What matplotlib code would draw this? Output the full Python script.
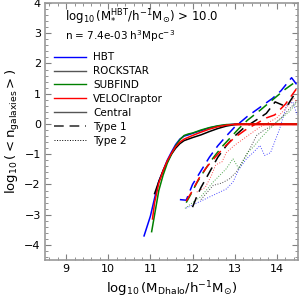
import numpy as np
import matplotlib.pyplot as plt
from matplotlib.lines import Line2D
from matplotlib.ticker import MultipleLocator

plt.rcParams['mathtext.default'] = 'regular'

# halo finders and their colours
finders = ['HBT', 'ROCKSTAR', 'SUBFIND', 'VELOCIraptor']
colors = ['blue', 'black', 'green', 'red']

# central galaxies (solid)
cen_x = {
    'HBT': [10.85, 11.0, 11.1, 11.2, 11.3, 11.4, 11.5, 11.6, 11.7, 11.8, 11.9, 12.0, 12.2, 12.4, 12.6, 12.8, 13.0, 13.3, 14.5],
    'ROCKSTAR': [11.1, 11.2, 11.3, 11.4, 11.5, 11.6, 11.7, 11.8, 11.9, 12.0, 12.2, 12.4, 12.6, 12.8, 13.0, 13.3, 14.5],
    'SUBFIND': [11.03, 11.1, 11.2, 11.3, 11.4, 11.5, 11.6, 11.7, 11.8, 11.9, 12.0, 12.2, 12.4, 12.6, 12.8, 13.0, 13.3, 14.5],
    'VELOCIraptor': [11.05, 11.1, 11.2, 11.3, 11.4, 11.5, 11.6, 11.7, 11.8, 11.9, 12.0, 12.2, 12.4, 12.6, 12.8, 13.0, 13.3, 14.5],
}
cen_y = {
    'HBT': [-3.7, -3.05, -2.45, -1.9, -1.55, -1.2, -0.93, -0.68, -0.5, -0.4, -0.36, -0.31, -0.22, -0.13, -0.07, -0.03, -0.01, 0.0, 0.0],
    'ROCKSTAR': [-2.3, -1.9, -1.55, -1.25, -1.0, -0.8, -0.65, -0.55, -0.5, -0.45, -0.36, -0.25, -0.15, -0.07, -0.02, 0.0, 0.0],
    'SUBFIND': [-3.56, -3.0, -2.2, -1.7, -1.3, -1.0, -0.72, -0.52, -0.38, -0.33, -0.3, -0.2, -0.12, -0.06, -0.02, -0.01, 0.0, 0.0],
    'VELOCIraptor': [-3.14, -2.6, -1.95, -1.55, -1.22, -0.97, -0.75, -0.6, -0.5, -0.44, -0.38, -0.27, -0.17, -0.09, -0.04, -0.01, 0.0, 0.0],
}

# type 1 satellites (dashed)
t1_x = {
    'HBT': [11.7, 11.85, 12.0, 12.2, 12.4, 12.6, 12.8, 13.0, 13.3, 13.6, 13.9, 14.1, 14.35, 14.5],
    'ROCKSTAR': [12.0, 12.1, 12.2, 12.4, 12.6, 12.8, 13.0, 13.2, 13.5, 13.75, 13.96, 14.23, 14.46],
    'SUBFIND': [11.85, 11.95, 12.1, 12.3, 12.5, 12.7, 12.9, 13.1, 13.3, 13.6, 13.9, 14.2, 14.5],
    'VELOCIraptor': [11.85, 12.0, 12.15, 12.35, 12.6, 12.8, 13.0, 13.25, 13.5, 13.75, 13.95, 14.2, 14.46],
}
t1_y = {
    'HBT': [-2.5, -2.52, -2.0, -1.55, -1.1, -0.72, -0.4, -0.1, 0.25, 0.55, 0.85, 1.1, 1.53, 1.25],
    'ROCKSTAR': [-2.75, -2.4, -2.1, -1.6, -1.1, -0.72, -0.4, -0.15, 0.12, 0.35, 0.73, 0.57, 1.07],
    'SUBFIND': [-2.6, -2.35, -1.95, -1.5, -1.1, -0.75, -0.45, -0.15, 0.12, 0.45, 0.8, 1.15, 1.45],
    'VELOCIraptor': [-2.55, -2.2, -1.8, -1.4, -1.0, -0.7, -0.45, -0.2, 0.0, 0.2, 0.3, 0.65, 1.15],
}

# type 2 satellites (dotted)
t2_x = {
    'HBT': [11.85, 12.8, 12.96, 13.1, 13.28, 13.45, 13.6, 13.71, 13.85, 14.07, 14.23, 14.38, 14.48],
    'ROCKSTAR': [12.2, 12.49, 12.7, 12.88, 13.04, 13.2, 13.36, 13.52, 13.7, 13.91, 14.1, 14.38, 14.5],
    'SUBFIND': [11.82, 12.0, 12.2, 12.49, 12.8, 12.96, 13.1, 13.32, 13.45, 13.6, 13.8, 14.0, 14.3, 14.48],
    'VELOCIraptor': [12.1, 12.3, 12.45, 12.55, 12.7, 12.8, 13.0, 13.1, 13.4, 13.6, 13.8, 14.0, 14.2, 14.4, 14.5],
}
t2_y = {
    'HBT': [-2.78, -2.15, -1.92, -1.5, -1.15, -0.93, -0.71, -1.04, -0.95, -0.15, 0.62, 0.73, 0.3],
    'ROCKSTAR': [-2.5, -2.03, -1.95, -1.81, -1.59, -1.2, -0.82, -0.38, -0.2, -0.04, 0.2, 0.62, 0.8],
    'SUBFIND': [-2.79, -2.6, -2.4, -1.92, -1.48, -1.15, -1.48, -0.93, -0.75, -0.49, -0.2, 0.07, 0.41, 0.73],
    'VELOCIraptor': [-2.25, -2.1, -1.7, -1.35, -1.25, -0.95, -0.7, -0.6, -0.3, -0.1, 0.05, 0.2, 0.5, 0.85, 0.7],
}

fig = plt.figure(figsize=(3, 3), dpi=100)
ax = fig.add_axes([0.15, 0.133, 0.843, 0.857])

for name, c in zip(finders, colors):
    ax.plot(t2_x[name], t2_y[name], color=c, ls=':', lw=0.7, alpha=0.7)
for name, c in zip(finders, colors):
    ax.plot(t1_x[name], t1_y[name], color=c, ls=(0, (7, 4)), lw=1.1)
for name, c in zip(finders, colors):
    ax.plot(cen_x[name], cen_y[name], color=c, ls='-', lw=1.1)
ax.plot([13.0, 14.5], [0, 0], color='red', lw=2, alpha=0.5)

ax.set_xlim(8.5, 14.5)
ax.set_ylim(-4.5, 4)
ax.xaxis.set_major_locator(MultipleLocator(1))
ax.xaxis.set_minor_locator(MultipleLocator(0.2))
ax.yaxis.set_major_locator(MultipleLocator(1))
ax.yaxis.set_minor_locator(MultipleLocator(0.2))
ax.tick_params(which='both', direction='in', top=True, right=True, color='gray', labelsize=8, pad=3)
ax.tick_params(which='major', length=4)
ax.tick_params(which='minor', length=2)
for s in ax.spines.values():
    s.set_color('#999999')
    s.set_linewidth(1.2)

ax.set_xlabel(r'$\log_{10}(M_{Dhalo}/h^{-1}M_{\odot})$', fontsize=9.5)
ax.set_ylabel(r'$\log_{10}(<n_{galaxies}>)$', fontsize=9.5, labelpad=2)

ax.text(0.08, 0.93, r'$\log_{10}(M_{*}^{HBT}/h^{-1}M_{\odot})$ > 10.0', transform=ax.transAxes, fontsize=8.5)
ax.text(0.08, 0.855, r'n = 7.4e-03 h$^{3}$Mpc$^{-3}$', transform=ax.transAxes, fontsize=7.5)

handles = [Line2D([], [], color=c, lw=1.0) for c in ['blue', '#555555', 'green', 'red']]
handles += [Line2D([], [], color='#555555', ls='-', lw=1.0),
            Line2D([], [], color='#555555', ls=(0, (5, 3)), lw=1.4),
            Line2D([], [], color='black', ls=':', lw=0.7)]
labels = finders + ['Central', 'Type 1', 'Type 2']
ax.legend(handles, labels, loc='upper left', bbox_to_anchor=(0.0, 0.845), frameon=False,
          fontsize=7.5, handlelength=3.0, labelspacing=0.38, handletextpad=0.7)

fig.savefig('out.png', dpi=100)
